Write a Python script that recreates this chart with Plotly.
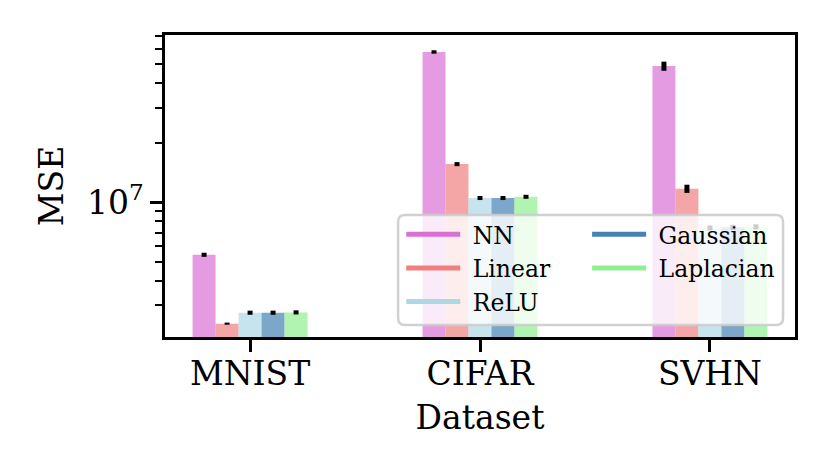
import plotly.graph_objects as go

datasets = ["MNIST", "CIFAR", "SVHN"]
methods = ["NN", "Linear", "ReLU", "Gaussian", "Laplacian"]
mse_nn = [5.41e6, 5.78e7, 4.90e7]
mse_linear = [2.42e6, 1.56e7, 1.17e7]
mse_relu = [2.75e6, 1.05e7, 7.40e6]
mse_gaussian = [2.75e6, 1.05e7, 7.45e6]
mse_laplacian = [2.76e6, 1.065e7, 7.50e6]
err_nn = [1.3e5, 1.15e6, 2.6e6]
err_linear = [3.0e4, 3.7e5, 5.6e5]
err_relu = [6.6e4, 2.5e5, 2.2e5]
err_gaussian = [6.6e4, 2.5e5, 2.2e5]
err_laplacian = [6.6e4, 2.5e5, 2.2e5]
y_tickvals = [1e7]
y_ticktext = ["10<sup>7</sup>"]
y_minor = [3e6, 4e6, 5e6, 6e6, 7e6, 8e6, 9e6, 2e7, 3e7, 4e7, 5e7, 6e7, 7e7]

values = [mse_nn, mse_linear, mse_relu, mse_gaussian, mse_laplacian]
errors = [err_nn, err_linear, err_relu, err_gaussian, err_laplacian]
colors = [(218, 112, 214), (240, 128, 128), (173, 216, 230), (70, 130, 180), (144, 238, 144)]

FONT = "DejaVu Serif"
fig = go.Figure()
for name, vals, errs, c in zip(methods, values, errors, colors):
    fig.add_trace(go.Bar(
        x=datasets, y=vals, name=name, showlegend=False,
        marker=dict(color="rgba(%d,%d,%d,0.7)" % c, line=dict(width=0)),
        error_y=dict(type="data", array=errs, visible=True, color="black", thickness=5, width=0),
    ))

for i, (name, c) in enumerate(zip(methods, colors)):
    fig.add_trace(go.Scatter(
        x=[None], y=[None], mode="lines", name="\u00a0" + name,
        line=dict(color="rgb(%d,%d,%d)" % c, width=5),
        legend="legend" if i < 3 else "legend2",
    ))

# rounded legend frame
x0, x1, y0, y1 = 0.370, 0.981, 0.040, 0.404
rx, ry = 7 / 630, 7 / 302
path = (f"M{x0+rx},{y0} L{x1-rx},{y0} Q{x1},{y0} {x1},{y0+ry} L{x1},{y1-ry} Q{x1},{y1} {x1-rx},{y1} "
        f"L{x0+rx},{y1} Q{x0},{y1} {x0},{y1-ry} L{x0},{y0+ry} Q{x0},{y0} {x0+rx},{y0} Z")
fig.add_shape(type="path", path=path, xref="paper", yref="paper", layer="above",
              fillcolor="rgba(255,255,255,0.8)", line=dict(color="rgba(204,204,204,0.9)", width=2.5))

leg_common = dict(bgcolor="rgba(0,0,0,0)", borderwidth=0, font=dict(family=FONT, size=23.5, color="black"),
                  itemwidth=54, xanchor="left", yanchor="top", tracegroupgap=0)
fig.update_layout(
    width=830, height=475,
    margin=dict(l=157, r=43, t=27, b=146, autoexpand=False),
    paper_bgcolor="white", plot_bgcolor="white",
    barmode="group", bargap=0.5, bargroupgap=0,
    font=dict(family=FONT, size=33, color="black"),
    legend=dict(x=0.375, y=0.412, **leg_common),
    legend2=dict(x=0.67, y=0.412, **leg_common),
    xaxis=dict(
        title=dict(text="Dataset", standoff=14, font=dict(family=FONT, size=33)), range=[-0.37, 2.37],
        tickfont=dict(family=FONT, size=33), ticklabelstandoff=-6,
        showline=True, linecolor="black", linewidth=2.5, mirror=True,
        ticks="outside", ticklen=12, tickwidth=2.5, tickcolor="black",
        showgrid=False, zeroline=False,
    ),
    yaxis=dict(
        title=dict(text="MSE", standoff=14, font=dict(family=FONT, size=33)), type="log",
        range=[6.316, 7.848],
        tickvals=y_tickvals, ticktext=y_ticktext, tickfont=dict(family=FONT, size=33),
        showline=True, linecolor="black", linewidth=2.5, mirror=True,
        ticks="outside", ticklen=12, tickwidth=2.5, tickcolor="black",
        minor=dict(tickvals=y_minor, ticks="outside", ticklen=7, tickwidth=2, tickcolor="black", showgrid=False),
        showgrid=False, zeroline=False,
    ),
)
fig.write_html("out.html")
